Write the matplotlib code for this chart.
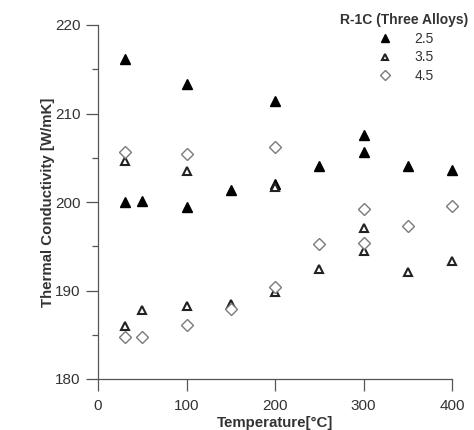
import matplotlib
matplotlib.use("Agg")
import matplotlib.pyplot as plt
from matplotlib.ticker import MultipleLocator

plt.rcParams['font.family'] = ['Liberation Sans', 'DejaVu Sans']

# Series 2.5 (filled triangles)
t25 = [30, 100, 200, 300, 300, 250, 350, 400, 200, 150, 30, 50, 100]
k25 = [216.2, 213.3, 211.4, 207.6, 205.6, 204.1, 204.1, 203.6, 202.0, 201.4, 200.0, 200.1, 199.4]
# Series 3.5 (open triangles)
t35 = [30, 100, 200, 300, 300, 250, 350, 400, 200, 150, 100, 50, 30]
k35 = [204.6, 203.5, 201.7, 197.1, 194.5, 192.4, 192.1, 193.3, 189.8, 188.5, 188.2, 187.8, 186.0]
# Series 4.5 (open diamonds)
t45 = [30, 100, 200, 300, 400, 350, 250, 300, 200, 150, 100, 50, 30]
k45 = [205.6, 205.4, 206.2, 199.2, 199.5, 197.3, 195.3, 195.4, 190.4, 187.9, 186.1, 184.8, 184.7]

labels = ['2.5', '3.5', '4.5']
legend_title = 'R-1C (Three Alloys)'

fig = plt.figure(figsize=(4.74, 4.30), dpi=100)
ax = fig.add_axes([98/474, 1-379/430, (452-98)/474, (379-25)/430])

tc = '#333333'
ax.plot(t25, k25, linestyle='none', marker='^', ms=7, mfc='black', mec='black', clip_on=False, label=labels[0])
ax.plot(t35, k35, linestyle='none', marker='^', ms=5.5, mfc='white', mec='#222222', mew=1.5, clip_on=False, label=labels[1])
ax.plot(t45, k45, linestyle='none', marker='D', ms=6, mfc='white', mec='#7a7a7a', mew=1.0, clip_on=False, label=labels[2])

ax.set_xlim(0, 400)
ax.set_ylim(180, 220)
ax.xaxis.set_major_locator(MultipleLocator(100))
ax.yaxis.set_major_locator(MultipleLocator(10))
ax.yaxis.set_minor_locator(MultipleLocator(5))
for s in ['top', 'right']:
    ax.spines[s].set_visible(False)
for s in ['left', 'bottom']:
    ax.spines[s].set_color('#555555')
    ax.spines[s].set_linewidth(0.9)
ax.tick_params(axis='both', which='major', length=8.5, color='#555555', labelsize=11, labelcolor=tc, width=0.9)
ax.tick_params(axis='y', which='major', pad=4)
ax.tick_params(axis='x', which='major', pad=6)
ax.tick_params(axis='y', which='minor', length=4, color='#555555', width=0.9)

ax.set_xlabel('Temperature[°C]', fontsize=10.8, fontweight='bold', color=tc, labelpad=2)
ax.set_ylabel('Thermal Conductivity [W/mK]', fontsize=10.8, fontweight='bold', color=tc, labelpad=0)

leg = ax.legend(title=legend_title, loc='upper right', bbox_to_anchor=(478/474, 1.0 - 3/430),
                bbox_transform=fig.transFigure, frameon=False, fontsize=10,
                handletextpad=1.4, labelspacing=0.35, borderpad=0.2, markerscale=0.85,
                handlelength=1.5)
leg.get_title().set_fontweight('bold')
leg.get_title().set_fontsize(10)
leg.get_title().set_color(tc)
for t in leg.get_texts():
    t.set_color(tc)
leg._legend_box.align = 'center'

fig.savefig('out.png', dpi=100)
